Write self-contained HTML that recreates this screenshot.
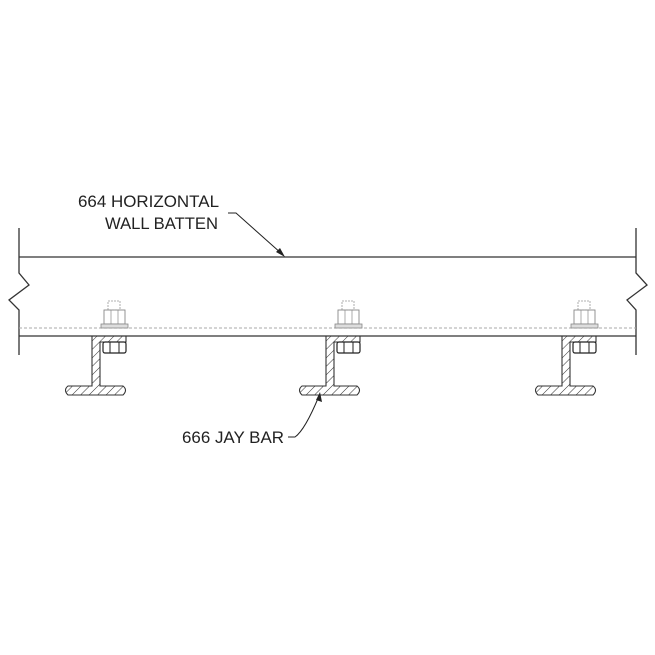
<!DOCTYPE html>
<html><head><style>
html,body{margin:0;padding:0;background:#fff;}
svg{display:block;}
text{font-family:"Liberation Sans",sans-serif;font-size:17px;fill:#222;}
</style></head><body>
<svg width="655" height="655" viewBox="0 0 655 655" xmlns="http://www.w3.org/2000/svg">
<defs>
<pattern id="h" patternUnits="userSpaceOnUse" width="6" height="6" patternTransform="rotate(45)">
<line x1="0" y1="0" x2="0" y2="6" stroke="#333" stroke-width="1"/>
</pattern>
<g id="unit">
  <rect x="108" y="301" width="12" height="9" fill="none" stroke="#999" stroke-width="0.8" stroke-dasharray="2,1"/>
  <rect x="104" y="310" width="21" height="14" fill="none" stroke="#888" stroke-width="0.9"/>
  <line x1="111" y1="310" x2="111" y2="324" stroke="#888" stroke-width="0.7"/>
  <line x1="118" y1="310" x2="118" y2="324" stroke="#888" stroke-width="0.7"/>
  <rect x="101" y="324" width="27" height="4" fill="#ddd" stroke="#888" stroke-width="0.8"/>
  <path d="M92,336 H126 V342 H100 V386 H123 Q128,390 123,395 H68 Q63,390 68,386 H92 Z" fill="url(#h)" stroke="#333" stroke-width="1.1"/>
  <rect x="103" y="342" width="23" height="11" rx="2" fill="#fff" stroke="#222" stroke-width="1.2"/>
  <line x1="110" y1="342" x2="110" y2="353" stroke="#222" stroke-width="1"/>
  <line x1="119" y1="342" x2="119" y2="353" stroke="#222" stroke-width="1"/>
</g>
</defs>
<g stroke="#333" stroke-width="1.3" fill="none">
  <line x1="19" y1="257" x2="636" y2="257"/>
  <line x1="19" y1="336" x2="636" y2="336"/>
  <polyline points="19,228 19,273 29,285 9,300 19,310 19,355"/>
  <polyline points="636,228 636,273 647,285 627,300 636,310 636,355"/>
</g>
<line x1="19" y1="328" x2="636" y2="328" stroke="#aaa" stroke-width="0.9" stroke-dasharray="3,2"/>
<use href="#unit"/>
<use href="#unit" transform="translate(234,0)"/>
<use href="#unit" transform="translate(470,0)"/>
<g stroke="#222" stroke-width="1" fill="none">
  <polyline points="228,213 236,213 282,254"/>
  <path d="M288,437 H295 Q305,430 319,396"/>
</g>
<polygon points="285,257 276,252 280,248" fill="#222"/>
<polygon points="320,392 322,402 316,400" fill="#222"/>
<text x="78" y="207" textLength="141" lengthAdjust="spacingAndGlyphs">664 HORIZONTAL</text>
<text x="105" y="229" textLength="113" lengthAdjust="spacingAndGlyphs">WALL BATTEN</text>
<text x="182" y="443" textLength="102" lengthAdjust="spacingAndGlyphs">666 JAY BAR</text>
</svg>
</body></html>
